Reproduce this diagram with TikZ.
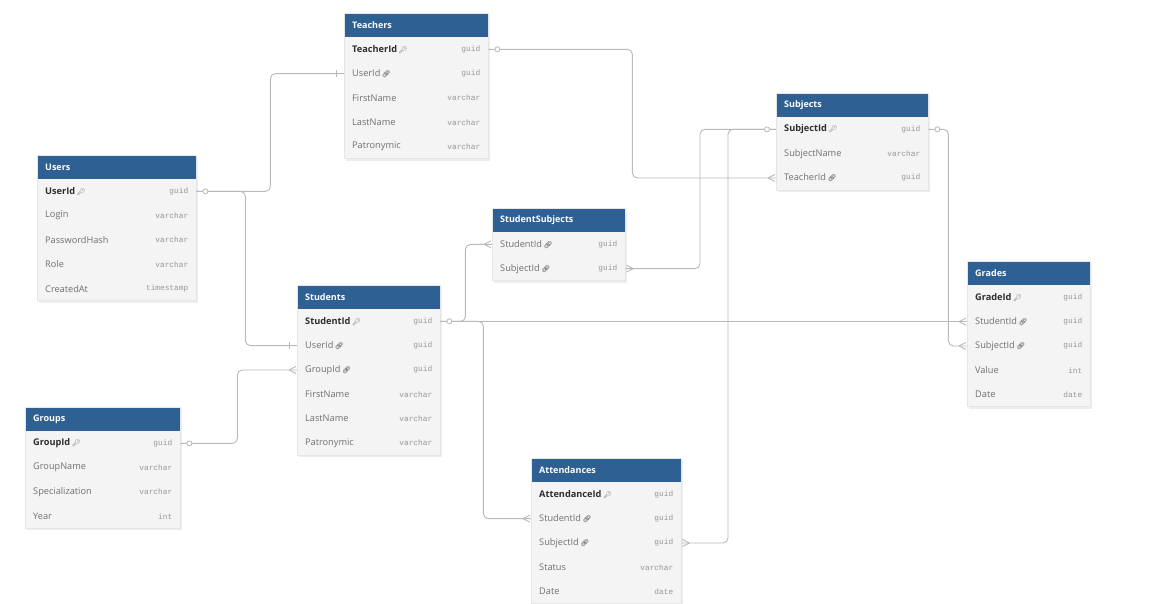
\documentclass[tikz,border=0pt]{standalone}
\usepackage{fontspec}
\setmainfont{Open Sans}
\newfontfamily\monof{Liberation Mono}
\newfontfamily\emo{Noto Emoji}
\usetikzlibrary{calc}
\definecolor{hdrblue}{RGB}{46,96,147}
\definecolor{rowfill}{RGB}{244,244,244}
\definecolor{tblframe}{RGB}{230,230,230}
\definecolor{pktext}{RGB}{45,45,45}
\definecolor{fldtext}{RGB}{112,112,112}
\definecolor{typetext}{RGB}{150,150,150}
\definecolor{conncol}{RGB}{185,185,185}
\newcommand\iconpk{\,{\emo\fontsize{7}{7}\selectfont\color{fldtext}🔑}}
\newcommand\iconfk{\,{\emo\fontsize{7}{7}\selectfont\color{pktext}🔗}}
\newcommand\iconn{}
\tikzset{
  hdr/.style={rectangle, fill=hdrblue, minimum height=24pt, inner sep=0pt, anchor=north west},
  hdrtext/.style={anchor=west, text=white, inner sep=0pt, font=\bfseries\fontsize{9}{10}\selectfont},
  rowbox/.style={rectangle, fill=rowfill, minimum height=24.3pt, inner sep=0pt, anchor=north west},
  fldpk/.style={anchor=west, text=pktext, inner sep=0pt, font=\bfseries\fontsize{9.2}{10}\selectfont},
  fldfk/.style={anchor=west, text=fldtext, inner sep=0pt, font=\fontsize{9.2}{10}\selectfont},
  fldn/.style={anchor=west, text=fldtext, inner sep=0pt, font=\fontsize{9.2}{10}\selectfont},
  typ/.style={anchor=east, text=typetext, inner sep=0pt, font=\monof\fontsize{7.8}{9}\selectfont},
  conn/.style={draw=conncol, line width=0.9pt, rounded corners=5pt},
  connm/.style={draw=conncol, line width=0.9pt},
  onecirc/.style={circle, draw=conncol, line width=0.8pt, fill=white, inner sep=0pt, minimum size=5pt},
}
% id, x, y, width, nrows, title, rows
\newcommand\dbtable[7]{%
  \fill[black!7] (#2+1.5,#3+2) rectangle ++(#4,{24+#5*24.3});
  \node[hdr, minimum width=#4pt] (#1) at (#2,#3) {};
  \node[hdrtext] at ($(#1.west)+(8,0)$) {#6};
  \foreach \fn/\ft/\fk [count=\i] in {#7} {
    \pgfmathsetmacro\yy{#3+24+(\i-1)*24.3}
    \node[rowbox, minimum width=#4pt] (#1-\i) at (#2,\yy) {};
    \node[fld\fk] at ($(#1-\i.west)+(8,0)$) {\fn\csname icon\fk\endcsname};
    \node[typ] at ($(#1-\i.east)+(-8,0)$) {\ft};
  }
  \draw[tblframe, line width=0.5pt] (#2,#3) rectangle ++(#4,{24+#5*24.3});
}
\newcommand\crowL[1]{\draw[connm] ([xshift=-8pt]#1.west) -- ([xshift=-1pt,yshift=3.5pt]#1.west) ([xshift=-8pt]#1.west) -- ([xshift=-1pt,yshift=-3.5pt]#1.west);}
\newcommand\crowR[1]{\draw[connm] ([xshift=8pt]#1.east) -- ([xshift=1pt,yshift=3.5pt]#1.east) ([xshift=8pt]#1.east) -- ([xshift=1pt,yshift=-3.5pt]#1.east);}
\newcommand\tickL[1]{\draw[connm] ([xshift=-8pt,yshift=3.5pt]#1.west) -- ([xshift=-8pt,yshift=-3.5pt]#1.west);}
\begin{document}
\begin{tikzpicture}[x=1pt,y=-1pt]
\fill[white] (0,0) rectangle (1163,603);
\useasboundingbox (0,0) rectangle (1163,603);

\dbtable{T}{344}{13}{144}{5}{Teachers}{TeacherId/guid/pk, UserId/guid/fk, FirstName/varchar/n, LastName/varchar/n, Patronymic/varchar/n}
\dbtable{U}{37}{155}{159}{5}{Users}{UserId/guid/pk, Login/varchar/n, PasswordHash/varchar/n, Role/varchar/n, CreatedAt/timestamp/n}
\dbtable{S}{297}{285}{143}{6}{Students}{StudentId/guid/pk, UserId/guid/fk, GroupId/guid/fk, FirstName/varchar/n, LastName/varchar/n, Patronymic/varchar/n}
\dbtable{Gp}{25}{407}{155}{4}{Groups}{GroupId/guid/pk, GroupName/varchar/n, Specialization/varchar/n, Year/int/n}
\dbtable{SS}{492}{208}{133}{2}{StudentSubjects}{StudentId/guid/fk, SubjectId/guid/fk}
\dbtable{A}{531}{458}{150}{5}{Attendances}{AttendanceId/guid/pk, StudentId/guid/fk, SubjectId/guid/fk, Status/varchar/n, Date/date/n}
\dbtable{Sb}{776}{93}{152}{3}{Subjects}{SubjectId/guid/pk, SubjectName/varchar/n, TeacherId/guid/fk}
\dbtable{Gr}{967}{261}{123}{5}{Grades}{GradeId/guid/pk, StudentId/guid/fk, SubjectId/guid/fk, Value/int/n, Date/date/n}

% connectors
\draw[conn] (U-1.east) -- ++(74,0) |- (T-2.west);
\draw[conn] (U-1.east) -- ++(49,0) |- (S-2.west);
\draw[conn] (T-1.east) -- ++(144,0) |- (Sb-3.west);
\draw[conn] (S-1.east) -- ++(25,0) |- (SS-1.west);
\draw[conn] (S-1.east) -- ++(43,0) |- (A-2.west);
\draw[conn] (Sb-1.west) -- ++(-76,0) |- (SS-2.east);
\draw[conn] (Sb-1.west) -- ++(-48,0) |- (A-3.east);
\draw[conn] (Sb-1.east) -- ++(20,0) |- (Gr-3.west);
\draw[conn] (Gp-1.east) -- ++(57,0) |- (S-3.west);
\draw[conn] (S-1.east) -- (S-1.east -| Gr-2.west);

% end markers
\node[onecirc] at ([xshift=9pt]U-1.east) {};
\node[onecirc] at ([xshift=9pt]T-1.east) {};
\node[onecirc] at ([xshift=9pt]S-1.east) {};
\node[onecirc] at ([xshift=-9pt]Sb-1.west) {};
\node[onecirc] at ([xshift=9pt]Sb-1.east) {};
\node[onecirc] at ([xshift=9pt]Gp-1.east) {};
\tickL{T-2}
\tickL{S-2}
\crowL{Sb-3}
\crowL{SS-1}
\crowL{A-2}
\crowR{SS-2}
\crowR{A-3}
\crowL{Gr-2}
\crowL{Gr-3}
\crowL{S-3}
\end{tikzpicture}
\end{document}
